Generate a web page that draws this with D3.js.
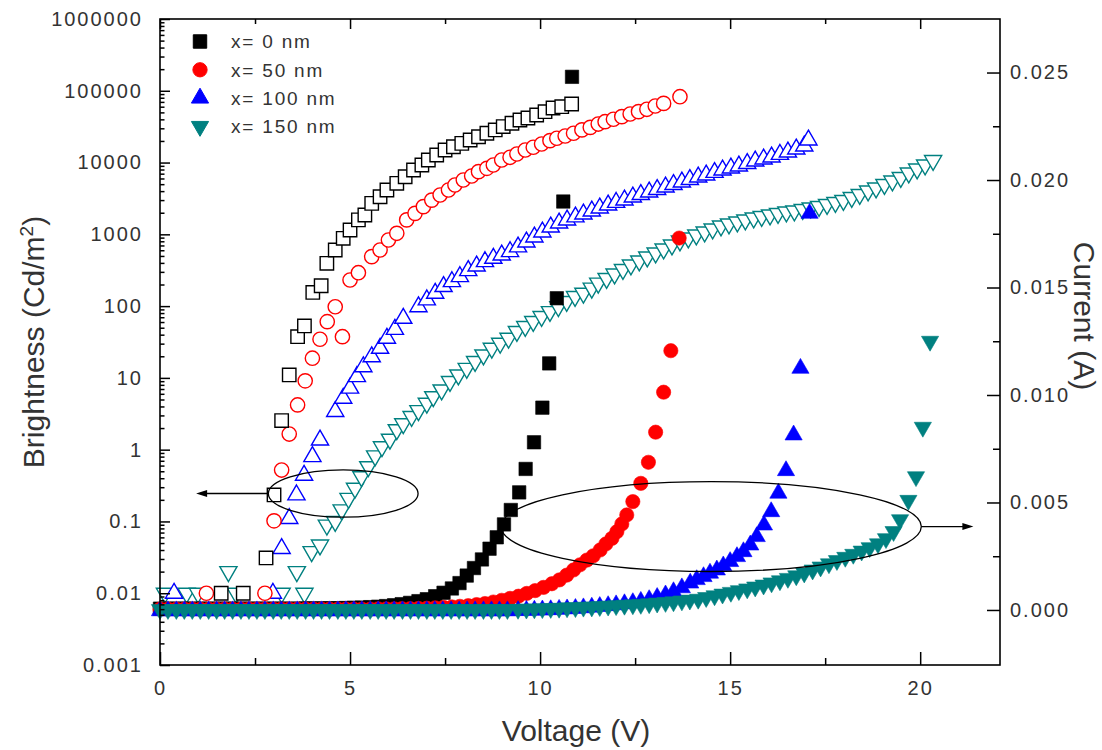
<!DOCTYPE html>
<html>
<head>
<meta charset="utf-8">
<script src="https://cdn.jsdelivr.net/npm/d3@7"></script>
<style>
body { margin: 0; background: #fff; }
text { font-family: Arial, "Liberation Sans", sans-serif; fill: #333; }
</style>
</head>
<body>
<div id="chart"></div>
<script>

// brightness (Cd/m2) against voltage (V), open symbols, left log axis
var bright0 = [[1.61,0.01],[2.19,0.01],[2.79,0.031],[3.0,0.234],[3.2,2.54],[3.4,11],[3.62,37.5],[3.8,53],[4.02,155],[4.24,192],[4.39,395],[4.61,605],[4.82,880],[5.0,1150],[5.22,1590],[5.39,1860],[5.57,2700],[5.79,3340],[5.97,4150],[6.23,5140],[6.45,6340],[6.67,7870],[6.89,9250],[7.06,10860],[7.28,12750],[7.5,14970],[7.72,16600],[7.94,18500],[8.16,20600],[8.38,22900],[8.6,25600],[8.82,28500],[9.03,31700],[9.26,35300],[9.47,39200],[9.68,41800],[9.91,46000],[10.13,51200],[10.34,57600],[10.57,60000],[10.83,65400]];

var bright50 = [[1.22,0.01],[2.76,0.01],[3.0,0.102],[3.2,0.52],[3.4,1.65],[3.62,4.2],[3.82,9.1],[4.01,18.8],[4.21,34.5],[4.4,60.7],[4.61,98],[4.8,37.5],[5.0,231],[5.22,292],[5.57,489],[5.79,605],[6.01,834],[6.23,1033],[6.49,1590],[6.71,1960],[6.93,2430],[7.15,3000],[7.37,3530],[7.59,4150],[7.76,4870],[7.98,5710],[8.2,6500],[8.38,7470],[8.6,8310],[8.77,9250],[8.99,10860],[9.21,11840],[9.39,13170],[9.61,14970],[9.82,16330],[10.04,18150],[10.26,20200],[10.44,21800],[10.66,23450],[10.88,25600],[11.1,28500],[11.32,30950],[11.53,34400],[11.71,37100],[11.93,40100],[12.15,43600],[12.37,47500],[12.59,51200],[12.81,55200],[13.03,61400],[13.25,66700],[13.68,82700]];

var bright100 = [[0.37,0.01],[2.97,0.01],[3.2,0.042],[3.4,0.11],[3.59,0.234],[3.79,0.44],[4.01,0.8],[4.21,1.36],[4.61,3.4],[4.82,5.2],[5.0,7.2],[5.18,10.4],[5.35,14.3],[5.57,19.7],[5.79,25.8],[5.97,35.6],[6.18,47.4],[6.4,67.6],[6.8,98],[7.02,122],[7.24,151],[7.46,187],[7.68,219],[7.89,257],[8.11,312],[8.33,362],[8.55,416],[8.77,463],[8.99,515],[9.21,573],[9.42,667],[9.64,782],[9.85,918],[10.06,1078],[10.28,1265],[10.5,1438],[10.71,1585],[10.93,1746],[11.14,1920],[11.36,2115],[11.57,2329],[11.79,2565],[12.0,2781],[12.22,3010],[12.44,3313],[12.65,3589],[12.87,3890],[13.08,4216],[13.3,4570],[13.51,4948],[13.73,5360],[13.94,5808],[14.16,6294],[14.37,6714],[14.59,7278],[14.8,7877],[15.02,8400],[15.23,8960],[15.45,9710],[15.66,10510],[15.88,11210],[16.09,11960],[16.31,12970],[16.52,14040],[16.74,15460],[16.95,17000],[17.06,20600]];

var bright150 = [[0.13,0.01],[0.7,0.01],[1.0,0.01],[1.8,0.02],[2.0,0.01],[3.2,0.01],[3.6,0.02],[3.8,0.01],[3.99,0.038],[4.21,0.047],[4.39,0.089],[4.61,0.1],[4.78,0.145],[4.96,0.21],[5.13,0.29],[5.3,0.42],[5.48,0.58],[5.66,0.82],[5.84,1.1],[6.05,1.4],[6.23,1.9],[6.4,2.3],[6.62,2.9],[6.8,3.5],[7.02,4.43],[7.19,5.48],[7.41,6.8],[7.63,8.9],[7.85,11],[8.07,13.6],[8.29,16.9],[8.51,20.9],[8.73,25.9],[8.95,30.4],[9.17,35.7],[9.39,44.3],[9.61,52],[9.82,61],[10.04,71.6],[10.26,84],[10.48,98.6],[10.7,116],[10.92,136],[11.14,151],[11.36,178],[11.53,209],[11.75,243],[11.96,280],[12.18,324],[12.39,374],[12.61,425],[12.82,483],[13.04,550],[13.25,625],[13.47,710],[13.68,807],[13.9,889],[14.11,979],[14.33,1077],[14.54,1186],[14.76,1306],[14.97,1393],[15.19,1486],[15.4,1585],[15.62,1690],[15.83,1771],[16.05,1858],[16.26,1950],[16.48,2046],[16.69,2113],[16.91,2218],[17.12,2328],[17.34,2443],[17.55,2606],[17.77,2775],[17.98,2958],[18.2,3258],[18.41,3589],[18.63,4018],[18.84,4426],[19.06,4943],[19.27,5534],[19.49,6194],[19.7,7145],[19.92,8128],[20.13,9247],[20.34,10690]];

// current (A) against voltage (V), filled symbols, right axis
var current0 = [[0,0.00006],[0.21,0.00006],[0.43,0.00006],[0.64,0.00006],[0.85,0.00006],[1.06,0.00006],[1.28,0.00006],[1.49,0.00006],[1.7,0.00006],[1.91,0.00006],[2.13,0.00006],[2.34,0.00006],[2.55,0.00006],[2.76,0.00006],[2.98,0.00006],[3.19,0.00006],[3.4,0.00006],[3.61,0.00006],[3.83,0.00007],[4.04,0.00007],[4.25,0.00007],[4.46,0.00008],[4.68,0.00008],[4.89,0.00009],[5.1,0.0001],[5.31,0.00011],[5.53,0.00013],[5.74,0.00015],[5.95,0.00018],[6.16,0.00022],[6.36,0.00027],[6.58,0.00033],[6.8,0.00041],[7.02,0.0005],[7.24,0.00064],[7.46,0.0008],[7.68,0.001],[7.88,0.00125],[8.07,0.0016],[8.26,0.00195],[8.47,0.00235],[8.67,0.00285],[8.86,0.00338],[9.05,0.00398],[9.23,0.00465],[9.45,0.00547],[9.62,0.00656],[9.84,0.0078],[10.06,0.00941],[10.24,0.01147],[10.44,0.0145],[10.61,0.019],[10.84,0.0248]];

var current50 = [[0,0.00004],[0.21,0.00004],[0.43,0.00004],[0.64,0.00004],[0.85,0.00004],[1.06,0.00004],[1.28,0.00004],[1.49,0.00004],[1.7,0.00004],[1.91,0.00004],[2.13,0.00004],[2.34,0.00004],[2.55,0.00004],[2.76,0.00004],[2.98,0.00004],[3.19,0.00004],[3.4,0.00004],[3.61,0.00004],[3.83,0.00004],[4.04,0.00004],[4.25,0.00004],[4.46,0.00004],[4.68,0.00004],[4.89,0.00004],[5.1,0.00004],[5.31,0.00004],[5.53,0.00004],[5.74,0.00005],[5.95,0.00005],[6.16,0.00005],[6.36,0.00006],[6.58,0.00006],[6.8,0.00007],[7.02,0.00008],[7.24,0.0001],[7.46,0.00012],[7.68,0.00014],[7.89,0.00017],[8.11,0.0002],[8.33,0.00025],[8.55,0.0003],[8.77,0.00037],[8.99,0.00045],[9.21,0.00054],[9.43,0.00064],[9.65,0.00077],[9.87,0.0009],[10.09,0.00105],[10.31,0.00122],[10.51,0.0014],[10.7,0.00162],[10.88,0.00186],[11.05,0.0021],[11.23,0.00232],[11.4,0.00252],[11.58,0.00279],[11.73,0.00307],[11.89,0.00333],[12.02,0.00364],[12.15,0.004],[12.28,0.00442],[12.44,0.00504],[12.65,0.00589],[12.85,0.00687],[13.04,0.00827],[13.25,0.01013],[13.44,0.01206],[13.66,0.0173]];

var current100 = [[0,-0.00004],[0.21,-0.00004],[0.43,-0.00004],[0.64,-0.00004],[0.85,-0.00004],[1.06,-0.00004],[1.28,-0.00004],[1.49,-0.00004],[1.7,-0.00004],[1.91,-0.00004],[2.13,-0.00004],[2.34,-0.00004],[2.55,-0.00004],[2.76,-0.00004],[2.98,-0.00004],[3.19,-0.00004],[3.4,-0.00004],[3.61,-0.00004],[3.83,-0.00004],[4.04,-0.00004],[4.25,-0.00004],[4.46,-0.00004],[4.68,-0.00004],[4.89,-0.00004],[5.1,-0.00004],[5.31,-0.00004],[5.53,-0.00004],[5.74,-0.00004],[5.95,-0.00004],[6.16,-0.00004],[6.38,-0.00004],[6.59,-0.00004],[6.8,-0.00004],[7.02,-0.00004],[7.23,-0.00004],[7.44,-0.00004],[7.66,-0.00004],[7.87,-0.00004],[8.08,-0.00004],[8.29,-0.00004],[8.51,-0.00004],[8.72,-0.00004],[8.93,-0.00004],[9.14,-0.00004],[9.42,-0.00003],[9.64,-0.00002],[9.85,-0.00001],[10.06,0],[10.28,0.00001],[10.5,0.00003],[10.71,0.00005],[10.93,0.00007],[11.14,0.0001],[11.36,0.00013],[11.57,0.00016],[11.79,0.0002],[12.0,0.00024],[12.22,0.00029],[12.44,0.00034],[12.65,0.0004],[12.87,0.00048],[13.08,0.00058],[13.3,0.0007],[13.51,0.00085],[13.73,0.00103],[13.95,0.00125],[14.12,0.00141],[14.3,0.00155],[14.47,0.00171],[14.65,0.00186],[14.82,0.00205],[15.0,0.00225],[15.18,0.00248],[15.35,0.00271],[15.53,0.00302],[15.7,0.00341],[15.89,0.00395],[16.08,0.00457],[16.27,0.00543],[16.47,0.00648],[16.67,0.00814],[16.85,0.01124],[17.09,0.01845]];

var current150 = [[0,0.00002],[0.21,0.00002],[0.43,0.00002],[0.64,0.00002],[0.85,0.00002],[1.06,0.00002],[1.28,0.00002],[1.49,0.00002],[1.7,0.00002],[1.91,0.00002],[2.13,0.00002],[2.34,0.00002],[2.55,0.00002],[2.76,0.00002],[2.98,0.00002],[3.19,0.00002],[3.4,0.00002],[3.61,0.00002],[3.83,0.00002],[4.04,0.00002],[4.25,0.00002],[4.46,0.00002],[4.68,0.00002],[4.89,0.00002],[5.1,0.00002],[5.31,0.00002],[5.53,0.00002],[5.74,0.00002],[5.95,0.00002],[6.16,0.00002],[6.38,0.00002],[6.59,0.00002],[6.8,0.00002],[7.02,0.00002],[7.23,0.00002],[7.44,0.00002],[7.66,0.00002],[7.87,0.00002],[8.08,0.00002],[8.29,0.00002],[8.51,0.00002],[8.72,0.00002],[8.93,0.00002],[9.14,0.00002],[9.42,0.00003],[9.64,0.00004],[9.85,0.00005],[10.06,0.00006],[10.28,0.00007],[10.5,0.00008],[10.71,0.0001],[10.93,0.00011],[11.14,0.00013],[11.36,0.00014],[11.57,0.00016],[11.79,0.00018],[12.0,0.0002],[12.22,0.00022],[12.44,0.00024],[12.65,0.00026],[12.87,0.00029],[13.08,0.00032],[13.3,0.00035],[13.51,0.00038],[13.73,0.00042],[13.94,0.00046],[14.16,0.0005],[14.37,0.00058],[14.59,0.00066],[14.8,0.00074],[15.02,0.00082],[15.23,0.0009],[15.45,0.00098],[15.66,0.00107],[15.88,0.00116],[16.09,0.00126],[16.31,0.00136],[16.52,0.00147],[16.74,0.00159],[16.95,0.00172],[17.17,0.00186],[17.38,0.002],[17.6,0.00215],[17.81,0.0023],[18.03,0.00245],[18.24,0.00259],[18.46,0.00274],[18.67,0.0029],[18.89,0.00308],[19.1,0.00332],[19.3,0.00365],[19.47,0.0042],[19.69,0.0051],[19.89,0.0062],[20.07,0.0085],[20.26,0.0125]];

var seriesNames = ["x= 0 nm", "x= 50 nm", "x= 100 nm", "x= 150 nm"];
var seriesColors = ["#000000", "#ff0000", "#0000ff", "#008080"];

var xTicks = [0, 5, 10, 15, 20];
var xMinor = [2.5, 7.5, 12.5, 17.5];
var yLeftTicks = [0.001, 0.01, 0.1, 1, 10, 100, 1000, 10000, 100000, 1000000];
var yLeftLabels = ["0.001", "0.01", "0.1", "1", "10", "100", "1000", "10000", "100000", "1000000"];
var yRightTicks = [0, 0.005, 0.01, 0.015, 0.02, 0.025];
var yRightLabels = ["0.000", "0.005", "0.010", "0.015", "0.020", "0.025"];
var yRightMinor = [0.0025, 0.0075, 0.0125, 0.0175, 0.0225];

// annotation ellipses: centre (V, value), half-widths in V and in value units
var leftNote = {v: 4.82, b: 0.245, rv: 1.97, decades: 0.33, tipV: 0.95};
var rightNote = {v: 14.5, i: 0.00388, rv: 5.53, ri: 0.00209, tipV: 21.4};


var w = 1102, h = 750;
var padL = 160, padR = 1000, padT = 19, padB = 665;

var svg = d3.select('#chart').append('svg')
  .attr('width', w)
  .attr('height', h);

var x = d3.scaleLinear().domain([0, 22.1]).range([padL, padR]);
var yL = d3.scaleLog().domain([0.001, 1000000]).range([padB, padT]);
var yR = d3.scaleLinear().domain([-0.00256, 0.02749]).range([padB, padT]);

// symbols
var shapes = [d3.symbolSquare, d3.symbolCircle, d3.symbolTriangle, d3.symbolTriangle];
var sizes = [180, 160, 128, 128];
function sym(k) {
  return d3.symbol().type(shapes[k]).size(sizes[k])();
}
function rot(k) {
  return k == 3 ? ' rotate(180)' : '';
}

var brights = [bright0, bright50, bright100, bright150];
var currents = [current0, current50, current100, current150];

var plot = svg.append('g');

// open symbols: drawn teal first so black ends up on top
[3, 2, 1, 0].forEach(function(k) {
  plot.append('g').selectAll('path')
    .data(brights[k])
    .enter().append('path')
    .attr('d', sym(k))
    .attr('transform', function(d) {
      return 'translate(' + x(d[0]) + ',' + yL(d[1]) + ')' + rot(k);
    })
    .style('fill', '#fff')
    .style('stroke', seriesColors[k])
    .style('stroke-width', 1.4);
});

// filled symbols for current
[0, 1, 2, 3].forEach(function(k) {
  plot.append('g').selectAll('path')
    .data(currents[k])
    .enter().append('path')
    .attr('d', sym(k))
    .attr('transform', function(d) {
      return 'translate(' + x(d[0]) + ',' + yR(d[1]) + ')' + rot(k);
    })
    .style('fill', seriesColors[k])
    .style('stroke', seriesColors[k])
    .style('stroke-width', 0.6);
});

// ellipses and arrows
var ann = svg.append('g').style('fill', 'none').style('stroke', '#000').style('stroke-width', 1.3);

var lcx = x(leftNote.v), lcy = yL(leftNote.b);
var lrx = x(leftNote.v + leftNote.rv) - lcx;
var lry = lcy - yL(leftNote.b * Math.pow(10, leftNote.decades));
ann.append('ellipse').attr('cx', lcx).attr('cy', lcy).attr('rx', lrx).attr('ry', lry);
ann.append('line').attr('x1', lcx - lrx).attr('y1', lcy).attr('x2', x(leftNote.tipV) + 4).attr('y2', lcy);
svg.append('path')
  .attr('d', 'M' + x(leftNote.tipV) + ',' + lcy + 'l11,-3.5v7z')
  .style('fill', '#000');

var rcx = x(rightNote.v), rcy = yR(rightNote.i);
var rrx = x(rightNote.v + rightNote.rv) - rcx;
var rry = rcy - yR(rightNote.i + rightNote.ri);
ann.append('ellipse').attr('cx', rcx).attr('cy', rcy).attr('rx', rrx).attr('ry', rry);
ann.append('line').attr('x1', rcx + rrx).attr('y1', rcy).attr('x2', x(rightNote.tipV) - 4).attr('y2', rcy);
svg.append('path')
  .attr('d', 'M' + x(rightNote.tipV) + ',' + rcy + 'l-11,-3.5v7z')
  .style('fill', '#000');

// axes, ticks pointing inward
function styleAxis(g) {
  g.select('.domain').remove();
  g.selectAll('line').style('stroke', '#000').style('stroke-width', 1.5);
  g.selectAll('text')
    .style('font-family', 'Arial, "Liberation Sans", sans-serif')
    .style('font-size', '20px')
    .style('letter-spacing', '2px')
    .style('fill', '#333');
}

svg.append('g').attr('transform', 'translate(0,' + padB + ')')
  .call(d3.axisBottom(x).tickValues(xTicks).tickSizeInner(-13).tickSizeOuter(0).tickPadding(16).tickFormat(d3.format('d')))
  .call(styleAxis);
svg.append('g').attr('transform', 'translate(0,' + padB + ')')
  .call(d3.axisBottom(x).tickValues(xMinor).tickSizeInner(-7).tickSizeOuter(0).tickFormat(''))
  .call(styleAxis);
svg.append('g').attr('transform', 'translate(0,' + padT + ')')
  .call(d3.axisTop(x).tickValues(xTicks).tickSizeInner(-10).tickSizeOuter(0).tickFormat(''))
  .call(styleAxis);
svg.append('g').attr('transform', 'translate(0,' + padT + ')')
  .call(d3.axisTop(x).tickValues(xMinor).tickSizeInner(-5).tickSizeOuter(0).tickFormat(''))
  .call(styleAxis);

var logMinor = [];
yLeftTicks.slice(0, -1).forEach(function(t) {
  d3.range(2, 10).forEach(function(m) { logMinor.push(t * m); });
});

svg.append('g').attr('transform', 'translate(' + padL + ',0)')
  .call(d3.axisLeft(yL).tickValues(yLeftTicks).tickSizeInner(-10).tickSizeOuter(0).tickPadding(17)
    .tickFormat(function(d, i) { return yLeftLabels[i]; }))
  .call(styleAxis);
svg.append('g').attr('transform', 'translate(' + padL + ',0)')
  .call(d3.axisLeft(yL).tickValues(logMinor).tickSizeInner(-4.5).tickSizeOuter(0).tickFormat(''))
  .call(styleAxis);

svg.append('g').attr('transform', 'translate(' + padR + ',0)')
  .call(d3.axisRight(yR).tickValues(yRightTicks).tickSizeInner(-13).tickSizeOuter(0).tickPadding(10)
    .tickFormat(function(d, i) { return yRightLabels[i]; }))
  .call(styleAxis);
svg.append('g').attr('transform', 'translate(' + padR + ',0)')
  .call(d3.axisRight(yR).tickValues(yRightMinor).tickSizeInner(-7).tickSizeOuter(0).tickFormat(''))
  .call(styleAxis);

// frame
svg.append('rect')
  .attr('x', padL).attr('y', padT)
  .attr('width', padR - padL).attr('height', padB - padT)
  .style('fill', 'none').style('stroke', '#000').style('stroke-width', 1.6);

// axis titles
svg.append('text')
  .attr('x', (padL + padR) / 2 - 4).attr('y', 741)
  .attr('text-anchor', 'middle')
  .style('font-size', '30px')
  .text('Voltage (V)');

var bt = svg.append('text')
  .attr('transform', 'translate(44,342) rotate(-90)')
  .attr('text-anchor', 'middle')
  .style('font-size', '30px');
bt.append('tspan').text('Brightness (Cd/m');
bt.append('tspan').attr('dy', -11).style('font-size', '19px').text('2');
bt.append('tspan').attr('dy', 11).text(')');

svg.append('text')
  .attr('transform', 'translate(1074,316) rotate(90)')
  .attr('text-anchor', 'middle')
  .style('font-size', '30px')
  .text('Current (A)');

// legend
var leg = svg.append('g');
seriesNames.forEach(function(name, k) {
  var ly = 41.5 + k * 28.3;
  leg.append('path')
    .attr('d', sym(k))
    .attr('transform', 'translate(200,' + ly + ')' + rot(k))
    .style('fill', seriesColors[k])
    .style('stroke', seriesColors[k]);
  leg.append('text')
    .attr('x', 231).attr('y', ly)
    .attr('dy', '0.36em')
    .style('font-size', '19px')
    .style('letter-spacing', '1.8px')
    .text(name);
});

</script>
</body>
</html>
